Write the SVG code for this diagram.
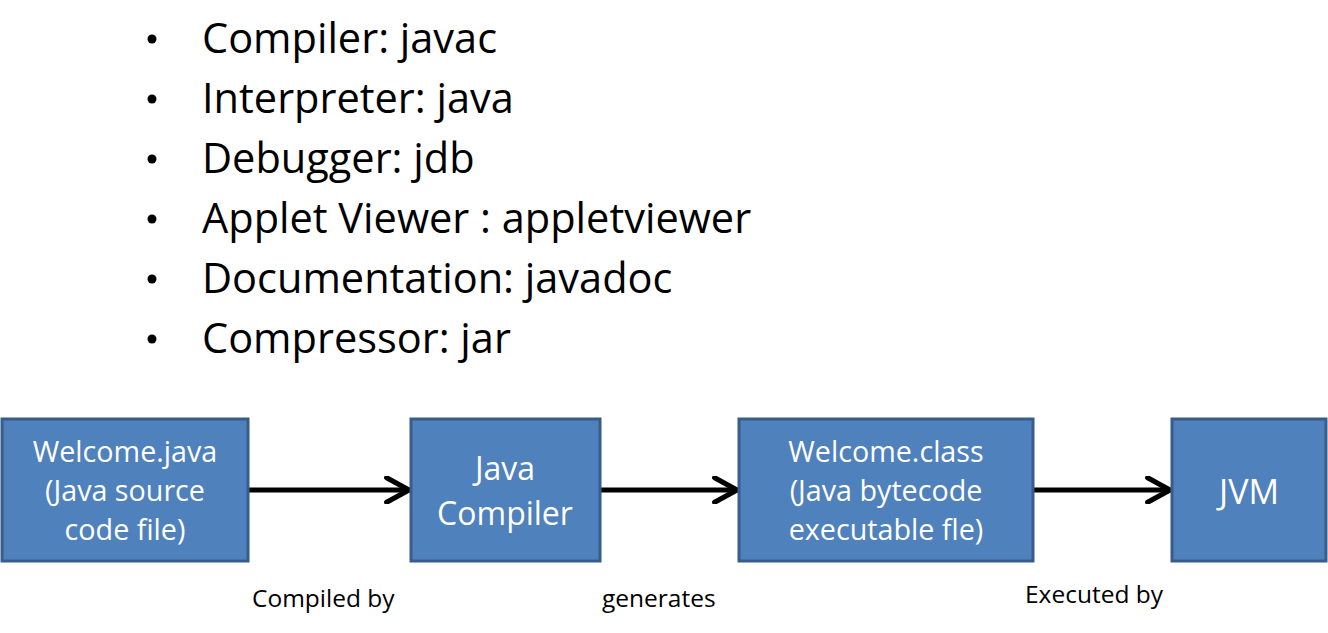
<svg xmlns="http://www.w3.org/2000/svg" width="1328" height="633" viewBox="0 0 1328 633">
<style>
.b{font-family:"Open Sans","Noto Sans",sans-serif;font-size:41.5px;fill:#000}
.n{fill:#4f81bd;stroke:#385d8a;stroke-width:3}
.t{font-family:"Open Sans","Noto Sans",sans-serif;font-size:28.7px;fill:#fff;text-anchor:middle}
.t2{font-size:32px}
.t3{font-size:34px}
.l{font-family:"Open Sans","Noto Sans",sans-serif;font-size:24.5px;fill:#000}
.c{stroke:#000;stroke-width:5;fill:none}
</style>
<defs>
<marker id="ah" viewBox="0 0 10 10" refX="9" refY="5" markerWidth="5.6" markerHeight="5.6" orient="auto" markerUnits="strokeWidth">
<path d="M1,0.6 L9,5 L1,9.4" fill="none" stroke="#000" stroke-width="1.8" stroke-linecap="round" stroke-linejoin="round"/>
</marker>
</defs>
<g id="bullets">
<circle cx="152" cy="39" r="4.5"/><text class="b" x="202" y="53">Compiler: javac</text>
<circle cx="152" cy="99" r="4.5"/><text class="b" x="202" y="113">Interpreter: java</text>
<circle cx="152" cy="159" r="4.5"/><text class="b" x="202" y="173">Debugger: jdb</text>
<circle cx="152" cy="219" r="4.5"/><text class="b" x="202" y="233">Applet Viewer : appletviewer</text>
<circle cx="152" cy="279" r="4.5"/><text class="b" x="202" y="293">Documentation: javadoc</text>
<circle cx="152" cy="339" r="4.5"/><text class="b" x="202" y="353">Compressor: jar</text>
</g>
<g id="connectors">
<line class="c" x1="249" y1="490" x2="409" y2="490" marker-end="url(#ah)"/>
<line class="c" x1="601" y1="490" x2="737" y2="490" marker-end="url(#ah)"/>
<line class="c" x1="1034" y1="490" x2="1170" y2="490" marker-end="url(#ah)"/>
<text class="l" x="252" y="607">Compiled by</text>
<text class="l" x="602" y="607">generates</text>
<text class="l" x="1025" y="603">Executed by</text>
</g>
<g id="n1"><rect class="n" x="2" y="419" width="246" height="142"/>
<text class="t" x="125" y="462">Welcome.java</text><text class="t" x="125" y="501">(Java source</text><text class="t" x="125" y="540">code file)</text></g>
<g id="n2"><rect class="n" x="411" y="419" width="189" height="142"/>
<text class="t t2" x="505" y="480">Java</text><text class="t t2" x="505" y="525">Compiler</text></g>
<g id="n3"><rect class="n" x="739" y="419" width="294" height="142"/>
<text class="t" x="886" y="462">Welcome.class</text><text class="t" x="886" y="501">(Java bytecode</text><text class="t" x="886" y="540">executable fle)</text></g>
<g id="n4"><rect class="n" x="1172" y="419" width="154" height="142"/>
<text class="t t3" x="1249" y="504">JVM</text></g>
</svg>
